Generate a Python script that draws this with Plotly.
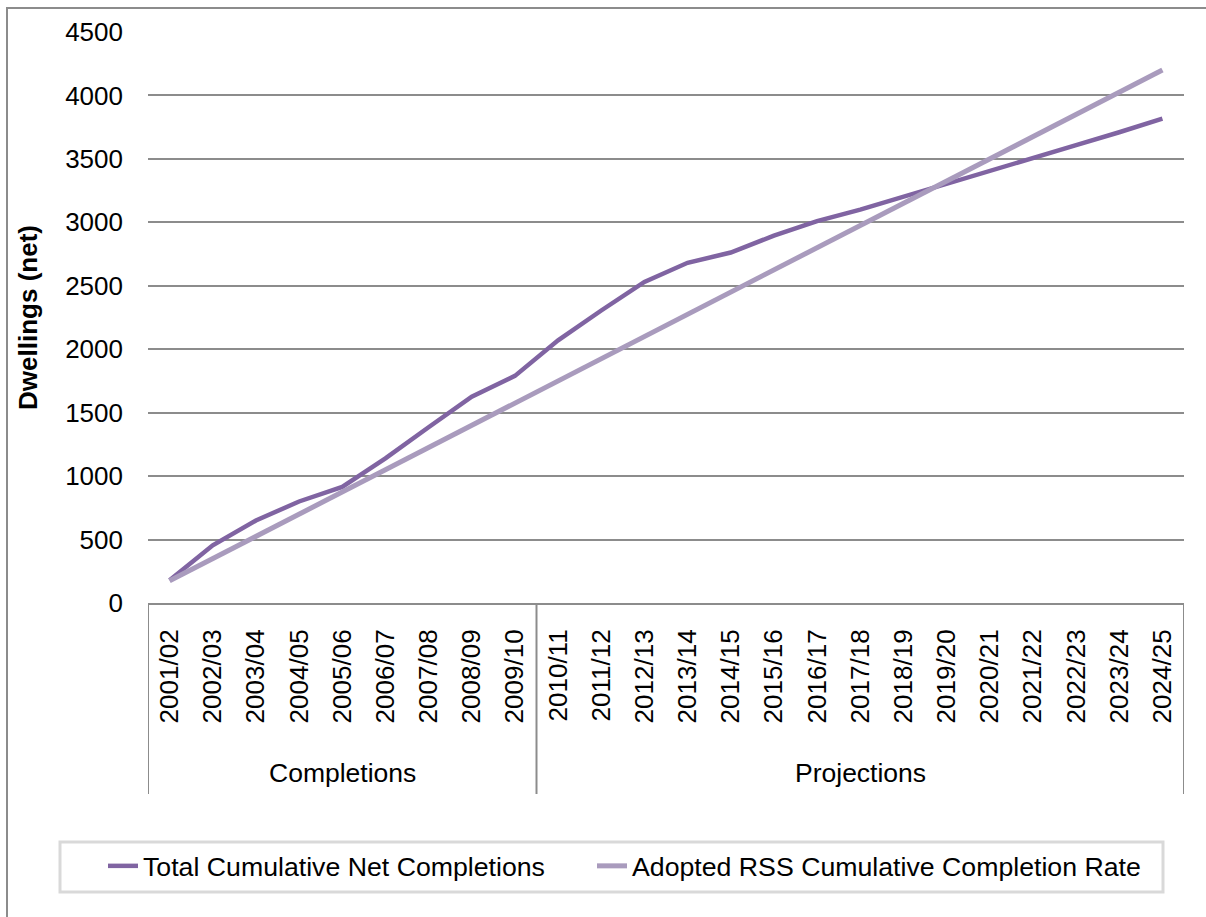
import plotly.graph_objects as go

years = ["2001/02", "2002/03", "2003/04", "2004/05", "2005/06", "2006/07", "2007/08",
         "2008/09", "2009/10", "2010/11", "2011/12", "2012/13", "2013/14", "2014/15",
         "2015/16", "2016/17", "2017/18", "2018/19", "2019/20", "2020/21", "2021/22",
         "2022/23", "2023/24", "2024/25"]
groups = ["Completions"] * 9 + ["Projections"] * 15

net_completions = [180, 455, 650, 800, 915, 1140, 1385, 1626, 1790, 2070, 2305, 2530,
                   2681, 2762, 2895, 3010, 3100, 3200, 3302, 3404, 3506, 3608, 3710, 3817]
rss_rate = [175, 350, 525, 700, 875, 1050, 1225, 1400, 1575, 1750, 1925, 2100, 2275,
            2450, 2625, 2800, 2975, 3150, 3325, 3500, 3675, 3850, 4025, 4200]

FONT = "Liberation Sans, Arial, sans-serif"
GRID = "#8C8C8C"

fig = go.Figure()
fig.add_trace(go.Scatter(x=years, y=net_completions, mode="lines",
                         name="Total Cumulative Net Completions",
                         line=dict(color="#8064A2", width=4.5), legend="legend"))
fig.add_trace(go.Scatter(x=years, y=rss_rate, mode="lines",
                         name="Adopted RSS Cumulative Completion Rate",
                         line=dict(color="#A99BBD", width=5), legend="legend2"))

L, R, T, B = 148, 22, 32, 314
W, H = 1206, 917
pw, ph = W - L - R, H - T - B

def px_x(v):
    return (v - L) / pw

def px_y(v):
    return (H - B - v) / ph

# group boundaries and centres (category index space)
bounds = [-0.5]
centres = []
names = []
start = 0
for i in range(1, len(groups) + 1):
    if i == len(groups) or groups[i] != groups[start]:
        bounds.append(i - 0.5)
        centres.append((start + i - 1) / 2)
        names.append(groups[start])
        start = i

shapes = [
    dict(type="rect", xref="paper", yref="paper",
         x0=px_x(7), x1=px_x(1212), y0=px_y(924), y1=px_y(8),
         line=dict(color=GRID, width=2), fillcolor="rgba(0,0,0,0)", layer="below"),
    dict(type="rect", xref="paper", yref="paper",
         x0=px_x(60), x1=px_x(1163), y0=px_y(892), y1=px_y(842),
         line=dict(color="#D9D9D9", width=3), fillcolor="rgba(0,0,0,0)", layer="below"),
]
for b in bounds:
    shapes.append(dict(type="line", xref="x", yref="paper", x0=b, x1=b,
                       y0=0, y1=px_y(794), line=dict(color=GRID, width=2)))

annotations = [dict(text=n, x=c, xref="x", y=px_y(773), yref="paper",
                    showarrow=False, yanchor="middle", xanchor="center",
                    font=dict(size=26.5, family=FONT, color="black"))
               for n, c in zip(names, centres)]

leg_common = dict(orientation="h", yanchor="top", y=px_y(842),
                  borderwidth=0, bgcolor="rgba(0,0,0,0)", xanchor="left",
                  font=dict(size=26.7), itemwidth=30)

fig.update_layout(
    width=W, height=H,
    margin=dict(l=L, r=R, t=T, b=B),
    paper_bgcolor="white", plot_bgcolor="white",
    font=dict(family=FONT, size=26, color="black"),
    showlegend=True,
    legend=dict(x=px_x(103), **leg_common),
    legend2=dict(x=px_x(592), **leg_common),
    shapes=shapes,
    annotations=annotations,
)

fig.update_xaxes(type="category", tickangle=-90, showgrid=False,
                 range=[-0.5, len(years) - 0.5],
                 showline=True, linecolor=GRID, linewidth=2,
                 ticks="", ticklabelstandoff=14, tickfont=dict(size=26))
fig.update_yaxes(range=[0, 4500], dtick=500, showgrid=True, gridcolor=GRID,
                 gridwidth=2, zeroline=False, showline=False, ticks="",
                 ticklabelstandoff=24, tickfont=dict(size=26),
                 title=dict(text="<b>Dwellings (net)</b>", font=dict(size=26), standoff=20))

fig.write_html("out.html")
